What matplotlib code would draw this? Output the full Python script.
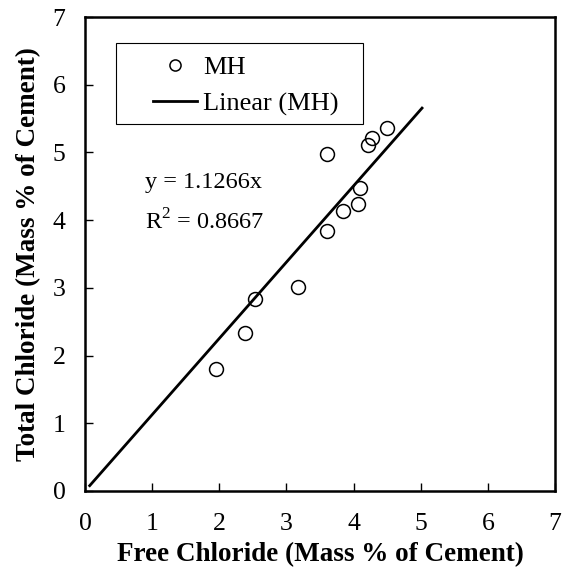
import numpy as np
import matplotlib.pyplot as plt
from matplotlib.patches import Rectangle

# Free vs total chloride data (mass % of cement)
free_cl = [1.95, 2.38, 2.53, 3.17, 3.60, 3.60, 3.85, 4.07, 4.10, 4.21, 4.28, 4.50]
total_cl = [1.80, 2.33, 2.84, 3.02, 3.84, 4.98, 4.13, 4.24, 4.48, 5.11, 5.22, 5.36]

slope = 1.1266
r2 = 0.8667
fit_x = [0.07, 5.02]

plt.rcParams['font.family'] = ['Liberation Serif', 'DejaVu Serif']
plt.rcParams['mathtext.fontset'] = 'custom'
plt.rcParams['mathtext.rm'] = 'Liberation Serif'

fig = plt.figure(figsize=(5.67, 5.69), dpi=100)
ax = fig.add_axes([0.1499, 0.1371, 0.8289, 0.8329])

ax.plot(free_cl, total_cl, 'o', markersize=10, markerfacecolor='none',
        markeredgecolor='black', markeredgewidth=1.1, label='MH')
ax.plot(fit_x, [slope * v for v in fit_x], '-', color='black', lw=2,
        label='Linear (MH)')

ax.set_xlim(0, 7)
ax.set_ylim(0, 7)
ax.set_xticks(range(8))
ax.set_yticks(range(8))
ax.tick_params(direction='in', length=6, width=1, labelsize=18.5)
ax.tick_params(axis='x', pad=16)
ax.tick_params(axis='y', pad=14)
for s in ax.spines.values():
    s.set_linewidth(1.8)

ax.set_xlabel('Free Chloride (Mass % of Cement)', fontsize=19.5, fontweight='bold', labelpad=5)
ax.set_ylabel('Total Chloride (Mass % of Cement)', fontsize=19.5, fontweight='bold', labelpad=8)

ax.text(0.9, 4.55, f'y = {slope}x', fontsize=17.5, va='center')
ax.text(0.9, 3.97, r'R$^\mathrm{2}$' + f' = {r2}', fontsize=17.5, va='center')

# legend box drawn separately (wider on the right like the original)
ax.add_patch(Rectangle((0.066, 0.774), 0.5255, 0.171, transform=ax.transAxes,
                       fill=False, edgecolor='black', lw=0.8, zorder=4))
leg = ax.legend(loc='upper left', bbox_to_anchor=(0.1447, 0.919), fontsize=19,
                frameon=False, borderpad=0, borderaxespad=0,
                handlelength=1.67, handletextpad=0.23, labelspacing=0.5,
                markerscale=0.8)

fig.savefig('out.png', dpi=100)
